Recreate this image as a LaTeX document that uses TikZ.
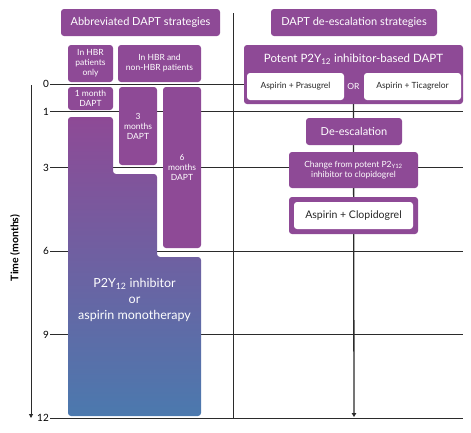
\documentclass[tikz,border=0pt]{standalone}
\usepackage{fontspec}
\setmainfont{Lato}
\usepackage{tikz}
\usetikzlibrary{arrows.meta,positioning,calc}

\definecolor{dapt}{HTML}{8E4A96}
\definecolor{monoblue}{HTML}{4B79AE}
\definecolor{gridc}{HTML}{2B2B2B}

\begin{document}
\begin{tikzpicture}[
  x=1pt, y=-1pt,
  hdr/.style={fill=dapt, text=white, rounded corners=3pt, inner sep=0pt, align=center,
    font=\fontsize{11}{13}\selectfont},
  box/.style={fill=dapt, text=white, rounded corners=3pt, inner sep=0pt, align=center,
    font=\fontsize{8.5}{10}\selectfont},
  wbox/.style={fill=white, text=black!85, rounded corners=3pt, inner sep=0pt, align=center,
    font=\fontsize{8.5}{10}\selectfont},
  tick/.style={anchor=east, inner sep=1pt, font=\fontsize{10}{11}\selectfont},
  grid/.style={draw=gridc, line width=0.7pt}
]
  \useasboundingbox (0,0) rectangle (471,432);

  % time grid
  \foreach \m in {0,1,3,6,9,12} {
    \node[tick] (t\m) at (50, 84+27.83*\m) {\m};
    \coordinate (g\m) at (463, 84+27.83*\m);
    \draw[grid] (t\m.east) -- (g\m);
  }
  \coordinate (ax0) at (31,85);
  \coordinate (ax12) at (31,418);
  \draw[grid, line width=0.9pt, -{Triangle[length=4pt,width=4pt]}] (ax0) -- (ax12);
  \node[rotate=90, font=\fontsize{10.5}{12}\selectfont\bfseries] (time) at (15,248) {Time (months)};

  \coordinate (divtop) at (233,13);
  \coordinate (divbot) at (233,418);
  \draw[grid] (divtop) -- (divbot);

  % abbreviated DAPT
  \node[hdr, minimum width=159, minimum height=27] (abbr) at (140.5,22.5) {Abbreviated DAPT strategies};
  \node[box, minimum width=45, minimum height=37] (hbr) at (90.5,63.5) {In HBR\\patients\\only};
  \node[box, minimum width=83, minimum height=37] (both) at (159.5,63.5) {In HBR and\\non-HBR patients};
  \node[box, minimum width=45, minimum height=23] (m1) at (90.5,98.5) {1 month\\DAPT};
  \node[box, minimum width=38, minimum height=78] (m3) at (138,126) {3\\months\\DAPT};
  \node[box, minimum width=38, minimum height=161] (m6) at (182,167.5) {6\\months\\DAPT};

  \shade[top color=dapt, bottom color=monoblue, rounded corners=3pt]
    (68,117) -- (113,117) -- (113,174) -- (157,174) -- (157,257)
    -- (201,257) -- (201,416) -- (68,416) -- cycle;
  \node[align=center, text=white, font=\fontsize{12.5}{16}\selectfont] (mono) at (134.5,300)
    {P2Y\textsubscript{12} inhibitor\\or\\aspirin monotherapy};

  % DAPT de-escalation
  \node[box, minimum width=219, minimum height=59] (potent) at (353.5,74.5) {};
  \node[font=\fontsize{11.5}{13}\selectfont, text=white] (ptitle) at (353.5,59.5)
    {Potent P2Y\textsubscript{12} inhibitor-based DAPT};
  \node[hdr, minimum width=166, minimum height=27] (desc) at (354,22.5) {DAPT de-escalation strategies};
  \node[wbox, minimum width=97, minimum height=27] (pras) at (295.5,86.5) {Aspirin + Prasugrel};
  \node[text=white, font=\fontsize{8.5}{10}\selectfont] (or) at (353.5,86.5) {OR};
  \node[wbox, minimum width=97, minimum height=27] (tica) at (412.5,86.5) {Aspirin + Ticagrelor};

  \coordinate (arrend) at (354,417);
  \draw[draw=gridc, line width=1.3pt, -{Triangle[length=4pt,width=4.5pt]}] (potent.south) -- (arrend);

  \node[hdr, minimum width=96, minimum height=27] (deesc) at (354,131.5) {De-escalation};
  \node[box, minimum width=129, minimum height=36] (change) at (353.5,170)
    {Change from potent P2\textsubscript{Y12}\\inhibitor to clopidogrel};
  \node[box, minimum width=129, minimum height=37] (clopo) at (353.5,215.5) {};
  \node[wbox, minimum width=119, minimum height=27, font=\fontsize{10.5}{12}\selectfont] (clop)
    at (353.5,215.5) {Aspirin + Clopidogrel};
\end{tikzpicture}
\end{document}
